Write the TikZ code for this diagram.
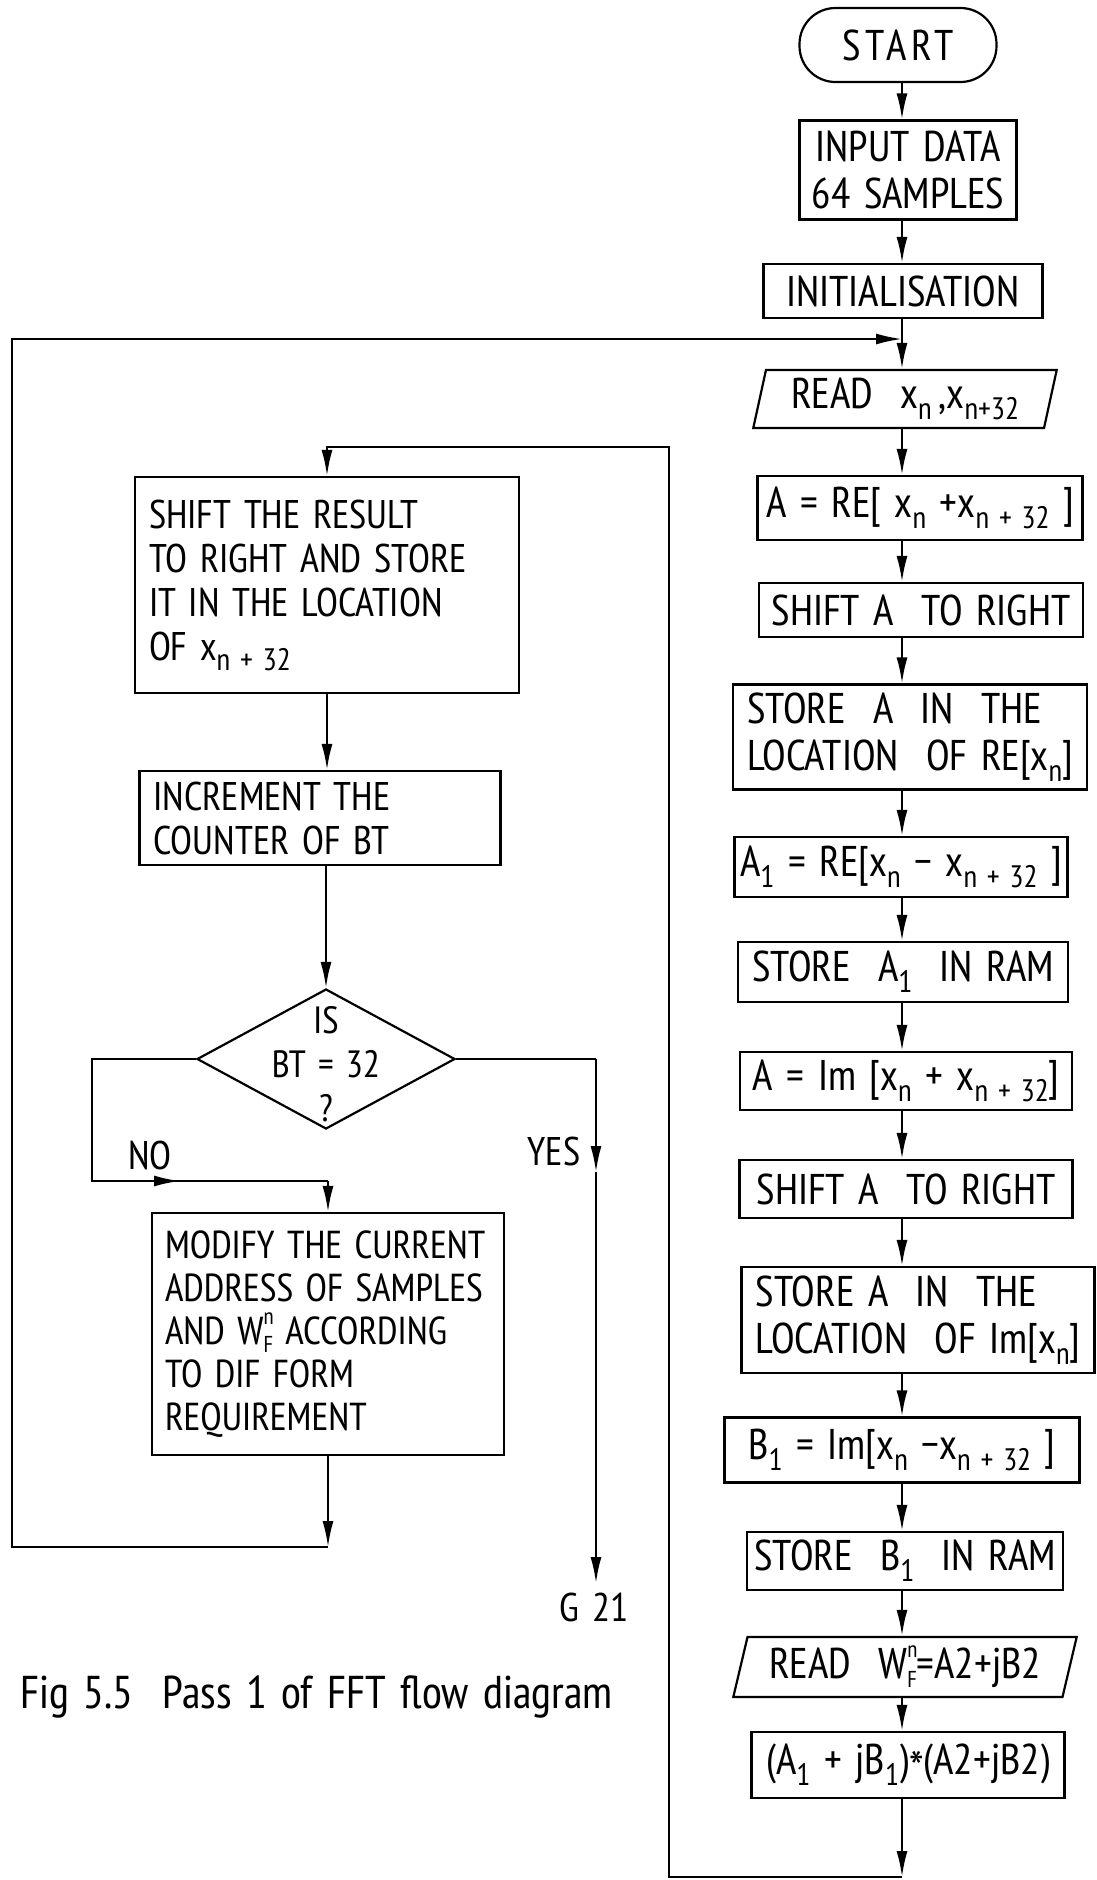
\documentclass[tikz,border=0pt]{standalone}
\usepackage{fontspec}
\setmainfont{PT Sans Narrow}[WordSpace=1.5]
\usetikzlibrary{arrows.meta,shapes.geometric}

% lowered index and the stacked twiddle-factor symbol
\newcommand\sbs[1]{\raisebox{-0.5ex}{\fontsize{31}{31}\selectfont #1}}
\newcommand\wnf{W\rlap{\raisebox{1.0ex}{\fontsize{23}{23}\selectfont n}}\raisebox{-0.4ex}{\fontsize{23}{23}\selectfont F}}

\begin{document}
\begin{tikzpicture}[x=1pt,y=-1pt,
  every node/.style={font=\fontsize{40}{44}\selectfont, inner sep=0pt},
  box/.style={draw, line width=2.2pt, align=center, font=\fontsize{43}{47}\selectfont},
  lbox/.style={draw, line width=2.2pt, align=flush left, inner xsep=14pt},
  io/.style={draw, line width=2.2pt, trapezium, trapezium stretches=true,
             trapezium left angle=76, trapezium right angle=104, font=\fontsize{43}{47}\selectfont},
  term/.style={draw, line width=2.2pt, rounded corners=36pt, font=\fontsize{43}{47}\selectfont\addfontfeature{LetterSpace=10}},
  decision/.style={draw, line width=2.2pt, diamond, font=\fontsize{38}{44}\selectfont},
  flow/.style={line width=2.2pt},
  arr/.style={flow, -{Latex[length=26pt,width=11pt]}}
]
\useasboundingbox (0,0) rectangle (1096,1880);

% ---------- main column ----------
\coordinate (colx) at (902,0);
\node[term, minimum width=197, minimum height=74] (start) at (898,45) {START};
\node[box, minimum width=217, minimum height=99] (input) at (908,170) {INPUT DATA\\64 SAMPLES};
\node[box, minimum width=279, minimum height=54] (init) at (903,291) {INITIALISATION};
\node[io, minimum width=304, minimum height=58] (rd1) at (905,399) {READ\ \ x\sbs{n}\,,x\sbs{n+32}};
\node[box, minimum width=325, minimum height=64] (are) at (920,508) {A = RE[ x\sbs{n} +x\sbs{n + 32} ]};
\node[box, minimum width=324, minimum height=54] (sh1) at (921,610) {SHIFT A\ \ TO RIGHT};
\node[box, align=left, minimum width=354, minimum height=105] (sre) at (910,737) {STORE\ \ A\ \ IN\ \ THE\\LOCATION\ \ OF RE[x\sbs{n}]};
\node[box, minimum width=333, minimum height=60] (a1) at (901,867) {A\sbs{1} = RE[x\sbs{n} − x\sbs{n + 32} ]};
\node[box, minimum width=330, minimum height=60] (sa1) at (903,972) {STORE\ \ A\sbs{1}\ \ IN RAM};
\node[box, minimum width=332, minimum height=58] (aim) at (906,1081) {A = Im [x\sbs{n} + x\sbs{n + 32}]};
\node[box, minimum width=333, minimum height=58] (sh2) at (906,1189) {SHIFT A\ \ TO RIGHT};
\node[box, align=left, minimum width=353, minimum height=106] (sim) at (918,1320) {STORE A\ \ IN\ \ THE\\LOCATION\ \ OF Im[x\sbs{n}]};
\node[box, minimum width=355, minimum height=65] (b1) at (902,1450) {B\sbs{1} = Im[x\sbs{n} −x\sbs{n + 32} ]};
\node[box, minimum width=316, minimum height=58] (sb1) at (905,1561) {STORE\ \ B\sbs{1}\ \ IN RAM};
\node[io, minimum width=345, minimum height=60, trapezium left angle=74, trapezium right angle=106] (rdw) at (905,1667) {READ\ \ \wnf=A2+jB2};
\node[box, minimum width=313, minimum height=66] (prod) at (908,1765) {(A\sbs{1} + jB\sbs{1})\raisebox{-0.55ex}{\fontsize{50}{50}\selectfont *}(A2+jB2)};

\foreach \a/\b in {start/input,input/init,init/rd1,rd1/are,are/sh1,sh1/sre,sre/a1,a1/sa1,
                   sa1/aim,aim/sh2,sh2/sim,sim/b1,b1/sb1,sb1/rdw,rdw/prod}
  \draw[arr] (\a.south -| colx) -- (\b.north -| colx);

% ---------- butterfly loop ----------
\node[lbox, text width=356, minimum height=216] (shr) at (327,585)
  {SHIFT THE RESULT\\TO RIGHT AND STORE\\IT IN THE LOCATION\\OF x\sbs{n + 32}};
\node[lbox, text width=333, minimum height=94] (inc) at (320,818)
  {INCREMENT THE\\COUNTER OF BT};
\node[decision, minimum width=258, minimum height=140] (dia) at (326,1059)
  {\raisebox{0pt}[0pt][0pt]{\raisebox{-16pt}{\begin{tabular}{@{}c@{}}IS\\BT = 32\\?\end{tabular}}}};
\node[lbox, text width=326, inner xsep=13pt, minimum height=242, font=\fontsize{39}{43}\selectfont] (mod) at (328,1334)
  {MODIFY THE CURRENT\\ADDRESS OF SAMPLES\\AND \wnf\ ACCORDING\\TO DIF FORM\\REQUIREMENT};

\node (no) at (150,1155) {NO};
\node (yes) at (554,1151) {YES};
\node (g21) at (594,1607) {G 21};
\node[anchor=west, font=\fontsize{46}{50}\selectfont] (cap) at (20,1697) {Fig 5.5\ \ Pass 1 of FFT flow diagram};

\draw[arr] (shr.south) -- (shr.south |- inc.north);
\draw[arr] (inc.south -| dia.north) -- (dia.north);

% NO branch
\coordinate (nocorner) at (92,1181);
\coordinate (nomid) at (180,1181);
\coordinate (nojoin) at (328,1181);
\draw[flow] (dia.west) -| (nocorner) -- (nojoin);
\draw[arr] (nocorner) -- (nomid);
\draw[arr] (nojoin) -- (mod.north);

% YES branch
\coordinate (ycorner) at (596,1059);
\coordinate (ymid) at (596,1172);
\coordinate (yend) at (596,1583);
\draw[flow] (dia.east) -- (ycorner);
\draw[arr] (ycorner) -- (ymid);
\draw[arr] (ymid) -- (yend);

% outer return to the main column
\coordinate (jtop) at (902,339);
\coordinate (jbot) at (328,1547);
\coordinate (oleft) at (12,1547);
\draw[arr] (mod.south) -- (jbot);
\draw[arr] (jbot) -- (oleft) |- (jtop);

% inner return from the product to the butterfly store
\coordinate (ibot) at (902,1877);
\coordinate (iright) at (669,447);
\draw[arr] (prod.south -| colx) -- (ibot);
\draw[arr] (ibot) -| (iright) -| (shr.north);
\end{tikzpicture}
\end{document}
